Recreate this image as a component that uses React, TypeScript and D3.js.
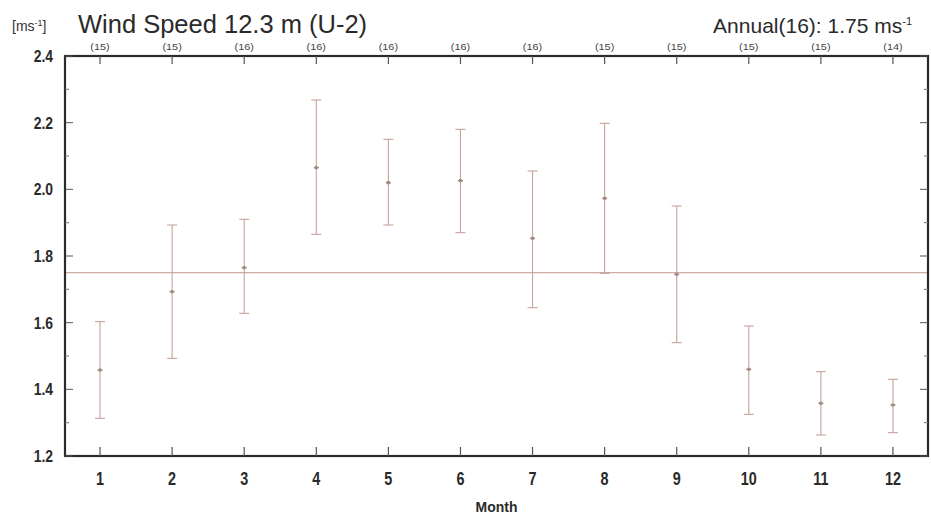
import React from "react";
import * as d3 from "d3";

const months = [1, 2, 3, 4, 5, 6, 7, 8, 9, 10, 11, 12];
const counts = ["(15)", "(15)", "(16)", "(16)", "(16)", "(16)", "(16)", "(15)", "(15)", "(15)", "(15)", "(14)"];
const means = [1.458, 1.693, 1.765, 2.065, 2.02, 2.026, 1.853, 1.973, 1.745, 1.46, 1.358, 1.353];
const uppers = [1.603, 1.893, 1.91, 2.268, 2.15, 2.18, 2.055, 2.198, 1.95, 1.59, 1.453, 1.43];
const lowers = [1.313, 1.493, 1.628, 1.865, 1.893, 1.87, 1.645, 1.748, 1.54, 1.325, 1.263, 1.27];
const annual = 1.75;
const yTicks = [1.2, 1.4, 1.6, 1.8, 2.0, 2.2, 2.4];
const yMinor = [1.3, 1.5, 1.7, 1.9, 2.1, 2.3];

const W = 931;
const H = 515;
const L = 65, R = 928, T = 56, B = 456;

export default function App() {
  const x = d3.scaleLinear().domain([0.5, 12.5]).range([64, 929]);
  const y = d3.scaleLinear().domain([1.2, 2.4]).range([B, T]);
  const barColor = "#c4a49c";
  const capW = 5;
  return (
    <svg width={W} height={H} style={{ position: "absolute", left: 0, top: 0, background: "#fff" }}
      fontFamily="'Liberation Sans', Arial, sans-serif">
      {/* annual line */}
      <line x1={L} x2={R} y1={y(annual)} y2={y(annual)} stroke="#d0aca3" strokeWidth={1.2} />
      {/* error bars */}
      {months.map((m, i) => (
        <g key={m} stroke={barColor} strokeWidth={1.1}>
          <line x1={x(m)} x2={x(m)} y1={y(uppers[i])} y2={y(lowers[i])} />
          <line x1={x(m) - capW} x2={x(m) + capW} y1={y(uppers[i])} y2={y(uppers[i])} />
          <line x1={x(m) - capW} x2={x(m) + capW} y1={y(lowers[i])} y2={y(lowers[i])} />
          <line x1={x(m) - 2.5} x2={x(m) + 2.5} y1={y(means[i])} y2={y(means[i])} stroke="#a88882" strokeWidth={1.4} />
          <circle cx={x(m)} cy={y(means[i])} r={1.8} fill="#a88882" stroke="none" />
        </g>
      ))}
      {/* frame */}
      <rect x={L} y={T} width={R - L} height={B - T} fill="none" stroke="#2a2a2a" strokeWidth={2.2} />
      {/* y ticks */}
      {yTicks.map((t) => (
        <g key={t} stroke="#555" strokeWidth={1}>
          <line x1={L} x2={L + 8} y1={y(t)} y2={y(t)} />
          <line x1={R} x2={R - 8} y1={y(t)} y2={y(t)} />
        </g>
      ))}
      {yMinor.map((t) => (
        <g key={t} stroke="#777" strokeWidth={1}>
          <line x1={L} x2={L + 4} y1={y(t)} y2={y(t)} />
          <line x1={R} x2={R - 4} y1={y(t)} y2={y(t)} />
        </g>
      ))}
      {yTicks.map((t) => (
        <text key={t} transform={`translate(53,${y(t) + 6}) scale(0.82,1)`} textAnchor="end"
          fontSize={17} fontWeight="bold" fill="#2a2a2a">{t.toFixed(1)}</text>
      ))}
      {/* x ticks */}
      {months.map((m) => (
        <g key={m} stroke="#555" strokeWidth={1.2}>
          <line x1={x(m)} x2={x(m)} y1={B} y2={B - 9} />
          <line x1={x(m)} x2={x(m)} y1={T} y2={T + 8} />
        </g>
      ))}
      {months.map((m) => (
        <text key={m} transform={`translate(${x(m)},${485}) scale(0.8,1)`} textAnchor="middle"
          fontSize={18} fontWeight="bold" fill="#2a2a2a">{m}</text>
      ))}
      {months.map((m, i) => (
        <text key={m} transform={`translate(${x(m)},50) scale(1.15,1)`} textAnchor="middle" fontSize={9.5} fill="#444">{counts[i]}</text>
      ))}
      <text transform={`translate(${(64 + 929) / 2},${512}) scale(0.9,1)`} textAnchor="middle" fontSize={15.5} fontWeight="bold" fill="#2a2a2a">Month</text>
      {/* titles */}
      <text x={12} y={31} fontSize={14} fill="#333">[ms<tspan dy={-5} fontSize={9}>-1</tspan><tspan dy={5}>]</tspan></text>
      <text x={78} y={33} fontSize={25.5} fill="#2a2a2a">Wind Speed 12.3 m (U-2)</text>
      <text x={912} y={33} textAnchor="end" fontSize={21} fill="#2a2a2a">Annual(16): 1.75 ms<tspan dy={-8} fontSize={11}>-1</tspan></text>
    </svg>
  );
}
